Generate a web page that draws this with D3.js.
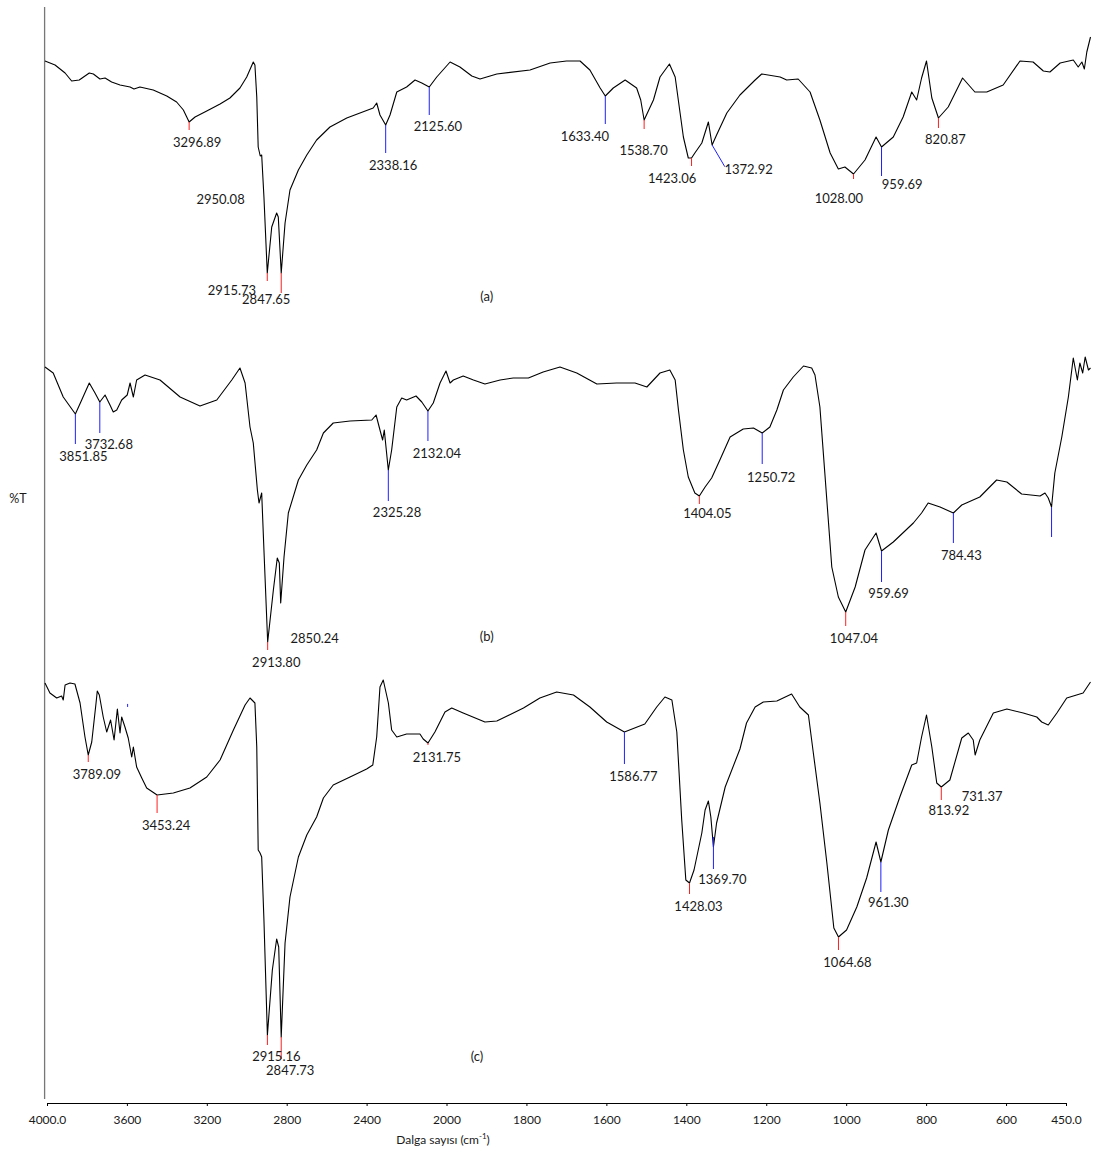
<!DOCTYPE html>
<html>
<head>
<meta charset="utf-8">
<script src="https://cdn.jsdelivr.net/npm/d3@7"></script>
<style>
  body { margin: 0; background: #fff; }
  svg text { font-family: Lato, "Open Sans", "Liberation Sans", sans-serif; fill: #1a1a1a; }
</style>
</head>
<body>
<svg id="chart" width="1093" height="1151"></svg>
<script>
// FTIR spectra (wavenumber cm-1, relative %T) of samples (a), (b) and (c), stacked

const spectrumA = [
  [4000,103.9],[3951,103.5],[3902,102.7],[3870,101.9],[3833,102.0],[3784,102.7],[3764,102.6],
  [3732,102.1],[3707,102.2],[3675,101.8],[3634,101.5],[3585,101.3],[3566,101.1],[3537,101.3],
  [3472,101.0],[3406,100.4],[3358,99.8],[3325,99.0],[3296.89,97.8],[3268,98.3],[3211,98.9],
  [3146,99.6],[3098,100.2],[3049,101.2],[3016,102.3],[2984,103.8],[2976,103.5],[2967,100.3],
  [2960,95.3],[2950.08,94.4],[2943,94.5],[2932,90.3],[2915.73,82.7],[2894,87.3],[2870,88.7],
  [2862,88.3],[2847.65,82.7],[2829,87.7],[2805,91.0],[2764,93.0],[2723,94.5],[2675,96.0],
  [2610,97.3],[2528,98.2],[2399,99.2],[2382,99.7],[2366,98.5],[2338.16,97.5],[2317,98.5],
  [2284,100.8],[2236,101.3],[2195,102.0],[2162,101.7],[2125.60,101.3],[2089,102.3],[2024,103.8],
  [1988,103.3],[1959,102.4],[1939,102.1],[1898,102.6],[1817,103.0],[1768,103.7],[1728,103.9],
  [1695,103.9],[1671,103.0],[1646,101.2],[1633.40,100.4],[1614,101.2],[1585,102.0],[1557,101.2],
  [1547,100.0],[1538.70,98.0],[1516,100.0],[1500,102.3],[1477,103.6],[1463,102.3],[1451,98.7],
  [1443,96.3],[1431,94.2],[1423.06,94.2],[1415,94.7],[1398,95.7],[1382,97.8],[1372.92,95.5],
  [1362,96.5],[1337,98.7],[1305,100.5],[1268,102.0],[1252,102.6],[1207,102.3],[1191,102.0],
  [1163,102.1],[1134,100.8],[1110,98.0],[1085,94.7],[1065,93.1],[1049,93.3],[1028.00,92.6],
  [1000,94.0],[973,96.3],[959.69,95.3],[931,96.3],[907,98.3],[886,100.8],[874,100.0],[862,102.2],
  [850,103.9],[837,100.2],[820.87,98.2],[797,99.3],[762,102.2],[732,100.8],[703,100.8],[663,101.5],
  [622,103.9],[590,103.8],[565,102.9],[549,102.8],[524,103.7],[492,104.0],[480,103.3],[471,103.8],
  [465,103.1],[459,104.8],[450,106.3]
];

const spectrumB = [
  [4000,73.3],[3960,72.7],[3911,70.3],[3851.85,68.6],[3821,70.0],[3784,71.7],[3756,70.7],
  [3732.68,69.8],[3707,70.5],[3683,69.5],[3667,68.8],[3650,69.0],[3626,70.0],[3599,70.5],
  [3585,71.7],[3569,70.3],[3553,72.0],[3512,72.5],[3439,72.0],[3341,70.3],[3244,69.4],[3162,70.0],
  [3089,72.0],[3049,73.2],[3024,71.7],[3000,67.3],[2984,65.7],[2964,61.0],[2956,59.7],[2943,60.7],
  [2932,55.0],[2913.80,45.8],[2886,51.0],[2867,54.2],[2857,53.7],[2850.24,49.7],[2834,54.3],
  [2813,58.7],[2764,62.0],[2723,63.5],[2675,65.0],[2642,66.7],[2594,67.7],[2512,67.9],[2406,68.0],
  [2385,68.5],[2366,67.0],[2353,66.0],[2345,67.0],[2325.28,63.0],[2309,65.0],[2284,69.3],
  [2260,70.2],[2236,70.0],[2190,70.4],[2162,69.8],[2132.04,68.9],[2106,69.7],[2073,71.7],
  [2044,72.9],[2024,71.7],[2008,72.0],[1980,72.4],[1955,72.0],[1927,71.6],[1890,72.0],[1858,72.2],
  [1821,72.2],[1785,72.8],[1744,73.3],[1703,72.7],[1654,71.6],[1606,71.7],[1561,71.7],[1532,71.3],
  [1500,72.7],[1476,73.0],[1463,72.0],[1455,69.0],[1443,65.0],[1431,62.3],[1415,60.7],[1404.05,60.4],
  [1390,61.3],[1374,62.2],[1354,64.0],[1329,66.3],[1297,67.1],[1272,67.2],[1250.72,66.7],[1232,67.3],
  [1215,69.0],[1199,71.0],[1175,72.3],[1150,73.4],[1130,73.2],[1122,72.5],[1110,69.3],[1098,62.7],
  [1081,53.3],[1065,50.3],[1047.04,48.8],[1024,51.3],[1000,55.0],[973,56.7],[959.69,54.9],[931,55.8],
  [882,57.7],[862,58.7],[846,59.7],[817,59.3],[784.43,58.7],[764,59.5],[720,60.3],[679,62.0],
  [654,61.8],[618,60.6],[573,60.4],[561,60.7],[553,60.2],[545,59.3],[537,62.7],[520,66.3],[504,70.3],
  [492,74.2],[482,72.0],[476,73.7],[469,72.7],[463,74.3],[455,73.0],[450,73.2]
];

const spectrumC = [
  [4000,41.7],[3976,40.7],[3943,40.2],[3919,40.4],[3911,40.0],[3902,41.5],[3878,41.7],[3854,41.6],
  [3829,39.7],[3805,36.3],[3789.09,34.5],[3772,35.8],[3751,39.7],[3745,40.9],[3735,40.5],[3716,38.3],
  [3699,36.8],[3680,38.0],[3663,36.0],[3647,39.1],[3634,36.7],[3626,38.3],[3610,37.3],[3594,36.2],
  [3577,34.3],[3569,35.3],[3553,33.3],[3528,32.2],[3504,31.2],[3453.24,30.5],[3374,30.7],[3293,31.2],
  [3211,32.3],[3146,34.0],[3081,37.0],[3024,39.5],[3000,40.2],[2976,39.7],[2967,35.3],[2960,25.0],
  [2951,24.7],[2943,24.3],[2932,18.0],[2915.16,6.5],[2891,13.0],[2870,16.1],[2860,15.3],[2847.73,6.3],
  [2829,15.7],[2805,20.3],[2764,24.3],[2723,26.5],[2675,28.3],[2642,30.2],[2594,31.5],[2512,32.3],
  [2431,33.1],[2401,33.5],[2382,36.3],[2366,41.3],[2350,42.0],[2325,39.7],[2309,37.0],[2284,36.3],
  [2236,36.6],[2171,36.6],[2155,36.1],[2131.75,35.7],[2098,36.8],[2049,38.8],[2016,39.2],[1980,38.7],
  [1927,37.8],[1898,37.9],[1833,39.2],[1793,40.2],[1752,40.8],[1711,40.5],[1671,39.3],[1630,37.8],
  [1586.77,36.8],[1537,37.6],[1508,39.3],[1488,40.3],[1471,40.0],[1459,36.8],[1447,28.0],[1437,22.0],
  [1428.03,21.7],[1417,23.0],[1398,26.7],[1390,29.0],[1382,29.9],[1376,28.3],[1369.70,25.3],[1362,27.7],
  [1341,31.3],[1305,35.1],[1289,37.7],[1268,39.3],[1248,39.8],[1215,39.9],[1179,40.6],[1159,39.3],
  [1138,38.5],[1126,34.7],[1110,29.7],[1093,23.7],[1076,17.2],[1064.68,16.3],[1045,17.0],[1020,19.3],
  [996,22.2],[973,25.8],[961.30,23.8],[943,27.0],[915,30.3],[886,33.5],[874,33.7],[862,36.3],
  [850,38.5],[837,35.3],[825,31.7],[813.92,31.3],[793,32.0],[764,36.2],[748,36.7],[736,36.0],
  [731.37,34.5],[720,36.0],[687,38.7],[654,39.1],[614,38.7],[581,38.3],[569,37.8],[553,37.5],
  [532,38.7],[508,40.2],[484,40.5],[468,40.7],[450,41.8]
];

// Picked bands: wavenumber and kind (auto = red tick, manual = blue tick, text = label only, tick = blue tick only)
const peaksA = [3296.89, 2950.08, 2915.73, 2847.65, 2338.16, 2125.60, 1633.40, 1538.70, 1423.06, 1372.92, 1028.00, 959.69, 820.87];
const kindsA = ["auto","text","auto","auto","manual","manual","manual","auto","auto","manual","auto","manual","auto"];

const peaksB = [3851.85, 3732.68, 2913.80, 2850.24, 2325.28, 2132.04, 1404.05, 1250.72, 1047.04, 959.69, 784.43, 545];
const kindsB = ["manual","manual","auto","text","manual","manual","auto","manual","auto","manual","manual","tick"];

const peaksC = [3789.09, 3597, 3453.24, 2915.16, 2847.73, 2131.75, 1586.77, 1428.03, 1369.70, 1064.68, 961.30, 813.92, 731.37];
const kindsC = ["auto","tick","auto","auto","auto","auto","manual","auto","manual","auto","manual","auto","text"];

const panelNames = ["(a)", "(b)", "(c)"];
const xTickValues = [4000, 3600, 3200, 2800, 2400, 2000, 1800, 1600, 1400, 1200, 1000, 800, 600, 450];

// ---- layout (pixels) ----
// tick: [startDy, endDx, endDy] relative to the point on the trace; label: [dx, dy] of text centre
const layoutA = [
  {tick:[0,0,8],  label:[8,20]},
  {tick:null,     label:[-39.7,43]},
  {tick:[0,0,8],  label:[-35.3,17.3]},
  {tick:[0,0,20], label:[-15,26]},
  {tick:[0,0,28], label:[7.5,40]},
  {tick:[0,0,28], label:[8.7,39.4]},
  {tick:[0,0,28], label:[-20.4,40]},
  {tick:[0,0,9],  label:[-0.6,30.7]},
  {tick:[0,0,8],  label:[-19.4,20]},
  {tick:[0,12.7,21.7], label:[36.5,24.3]},
  {tick:[0,0,5],  label:[-14.7,24.3]},
  {tick:[0,0,29], label:[20.7,37]},
  {tick:[0,0,10], label:[7,21.7]}
];
const layoutB = [
  {tick:[0,0,30], label:[8,42.7]},
  {tick:[0,0,31], label:[9,42.6]},
  {tick:[0,0,8],  label:[8.6,20]},
  {tick:null,     label:[34,35]},
  {tick:[0,0,31], label:[8.7,42.7]},
  {tick:[0,0,30], label:[9,42]},
  {tick:[0,0,8],  label:[8,17.3]},
  {tick:[0,0,31], label:[9,44]},
  {tick:[0,0,14], label:[8.3,26]},
  {tick:[0,0,31], label:[7,42.6]},
  {tick:[0,0,30], label:[8,42.7]},
  {tick:[0,0,30], label:null}
];
const layoutC = [
  {tick:[0,0,7],  label:[8.6,19.3]},
  {tick:[-32,0,-29], label:null},
  {tick:[0,0,18], label:[9,30]},
  {tick:[0,0,10], label:[9,21.7]},
  {tick:[0,0,22], label:[9,33.3]},
  {tick:[0,0,2],  label:[9,14.4]},
  {tick:[0,0,32], label:[9,44]},
  {tick:[0,0,11], label:[9,23.4]},
  {tick:[-10,0,22], label:[9,32.6]},
  {tick:[0,0,13], label:[9,25]},
  {tick:[0,0,30], label:[7.4,40.6]},
  {tick:[0,0,13], label:[7.6,23.7]},
  {tick:null,     label:[7,41.7]}
];
const panelLabelPos = [[486.7,296.7],[486.7,636],[477,1056]];
const tickColor = {auto: "#ff1f1f", manual: "#1f1fff", tick: "#1f1fff"};

const svg = d3.select("#chart");

// the spectrum plot uses a split wavenumber scale (x2 expansion below 2000 cm-1)
const xData = d3.scaleLinear().domain([4000, 2000, 450]).range([45, 455, 1090.5]);
const xAxisScale = d3.scaleLinear().domain([4000, 2000, 450]).range([47, 446.5, 1066]);
const y = d3.scaleLinear().domain([0, 110]).range([1100, 0]);

// axes
svg.append("line")
  .attr("x1", 44.6).attr("x2", 44.6).attr("y1", 7).attr("y2", 1099)
  .attr("stroke", "#777").attr("stroke-width", 1.3);

const xAxis = d3.axisBottom(xAxisScale)
  .tickValues(xTickValues)
  .tickSize(3)
  .tickSizeOuter(0)
  .tickPadding(9)
  .tickFormat(d => (d === 4000 || d === 450) ? d.toFixed(1) : String(d));

const gx = svg.append("g").attr("transform", "translate(0,1103)").call(xAxis);
gx.select(".domain").attr("stroke", "#000").attr("stroke-width", 1.2);
gx.selectAll(".tick line").attr("stroke", "#000");
gx.selectAll(".tick text").style("font-size", "12px").attr("fill", "#1a1a1a")
  .style("font-family", "Lato, 'Open Sans', sans-serif");

const title = svg.append("text")
  .attr("x", 443).attr("y", 1144)
  .attr("text-anchor", "middle")
  .style("font-size", "12px");
title.append("tspan").text("Dalga sayısı (cm");
title.append("tspan").attr("dy", -5).style("font-size", "8px").text("-1");
title.append("tspan").attr("dy", 5).text(")");

svg.append("text")
  .attr("x", 18).attr("y", 499).attr("dy", "0.35em")
  .attr("text-anchor", "middle")
  .style("font-size", "12.5px")
  .text("%T");

// spectra
const line = d3.line().x(d => xData(d[0])).y(d => y(d[1]));

function valueAt(spec, w) {
  const i = spec.findIndex(p => p[0] <= w);
  if (i <= 0) return spec[Math.max(i, 0)][1];
  const a = spec[i - 1], b = spec[i];
  const t = (a[0] - w) / (a[0] - b[0]);
  return a[1] + t * (b[1] - a[1]);
}

const fmt = d3.format(".2f");
const panels = [
  {spec: spectrumA, peaks: peaksA, kinds: kindsA, layout: layoutA},
  {spec: spectrumB, peaks: peaksB, kinds: kindsB, layout: layoutB},
  {spec: spectrumC, peaks: peaksC, kinds: kindsC, layout: layoutC}
];

panels.forEach((p, pi) => {
  const g = svg.append("g");
  g.append("path")
    .datum(p.spec)
    .attr("d", line)
    .attr("fill", "none")
    .attr("stroke", "#000")
    .attr("stroke-width", 1.1)
    .attr("stroke-linejoin", "round");

  const marks = p.peaks.map((w, i) => ({w, kind: p.kinds[i], lay: p.layout[i], v: valueAt(p.spec, w)}));

  g.selectAll("line.peak")
    .data(marks.filter(m => m.lay.tick))
    .join("line")
    .attr("class", "peak")
    .attr("x1", m => xData(m.w))
    .attr("y1", m => y(m.v) + m.lay.tick[0])
    .attr("x2", m => xData(m.w) + m.lay.tick[1])
    .attr("y2", m => y(m.v) + m.lay.tick[2])
    .attr("stroke", m => tickColor[m.kind])
    .attr("stroke-width", 1);

  g.selectAll("text.peak")
    .data(marks.filter(m => m.lay.label))
    .join("text")
    .attr("class", "peak")
    .attr("x", m => xData(m.w) + m.lay.label[0])
    .attr("y", m => y(m.v) + m.lay.label[1])
    .attr("dy", "0.35em")
    .attr("text-anchor", "middle")
    .style("font-size", "13px")
    .text(m => fmt(m.w));

  svg.append("text")
    .attr("x", panelLabelPos[pi][0]).attr("y", panelLabelPos[pi][1])
    .attr("dy", "0.35em")
    .attr("text-anchor", "middle")
    .style("font-size", "13px")
    .text(panelNames[pi]);
});
</script>
</body>
</html>
